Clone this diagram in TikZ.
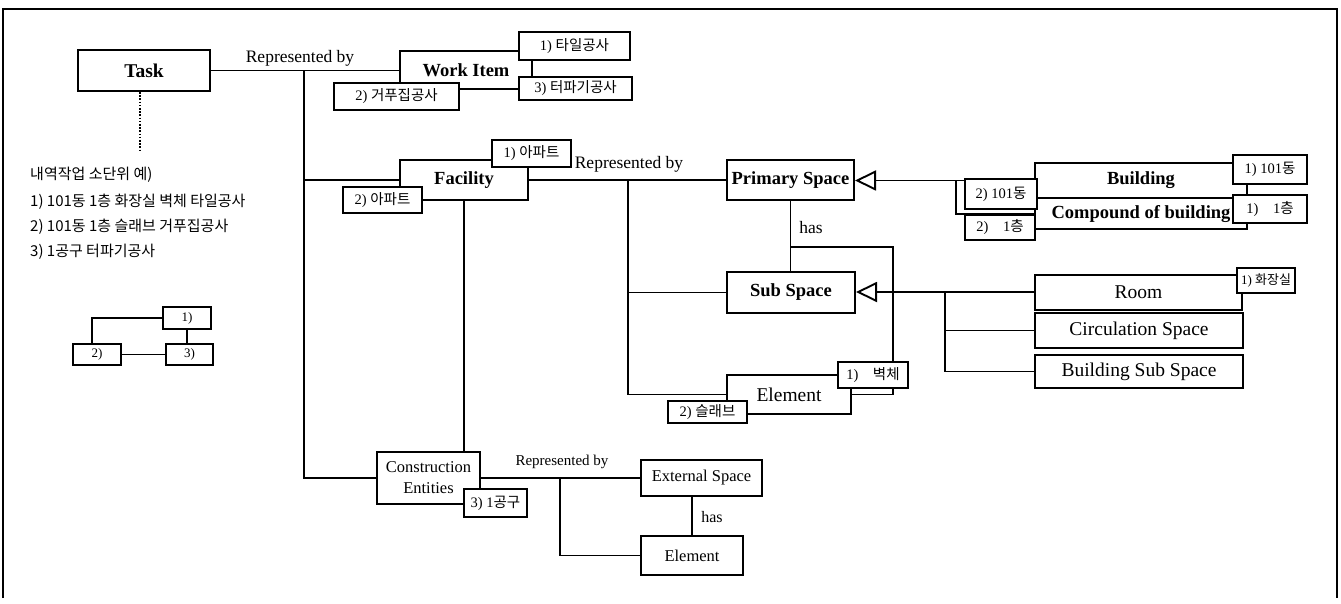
\documentclass[tikz,border=0pt]{standalone}
\usepackage{fontspec}
\setmainfont{Liberation Serif}
\newfontfamily\kr{Noto Sans CJK KR}
\usetikzlibrary{arrows.meta, calc}

\begin{document}
\begin{tikzpicture}[x=1pt, y=-1pt,
  ent/.style={draw, line width=2pt, fill=white, inner sep=0pt,
              font=\fontsize{18.5}{20}\selectfont\bfseries},
  entr/.style={ent, font=\fontsize{19.5}{22}\selectfont},
  ents/.style={ent, font=\fontsize{16.5}{21}\selectfont, align=center},
  inst/.style={draw, line width=1.6pt, fill=white, inner sep=0pt,
               font=\fontsize{14.5}{16}\selectfont},
  rel/.style={font=\fontsize{17.5}{20}\selectfont, inner sep=1pt},
  legend/.style={anchor=west, inner sep=0pt, font=\kr\fontsize{15}{17}\selectfont},
  gen/.style={-{Triangle[open, length=21pt, width=20pt]}},
  ln/.style={line width=1.9pt}]
  \useasboundingbox (0,0) rectangle (1341,604);
  % frame
  \draw[line width=2.2pt] (3,598) -- (3,9) -- (1337,9) -- (1337,598);
  % entities
  \node[ent, minimum width=132pt, minimum height=41pt, font=\fontsize{19.5}{22}\selectfont\bfseries]
    (task) at (144,70.5) {Task};
  \node[ent, minimum width=132pt, minimum height=38pt] (work) at (466,70.5) {Work Item};
  \node[ent, minimum width=128pt, minimum height=40pt] (fac) at (464,180) {Facility};
  \node[ent, minimum width=127pt, minimum height=40pt] (prim) at (790.5,180) {Primary Space};
  \node[ent, minimum width=128pt, minimum height=41pt] (subsp) at (791,292.5) {Sub Space};
  \node[entr, minimum width=124pt, minimum height=39pt] (elem) at (789,394.5) {Element};
  \node[ent, minimum width=212pt, minimum height=35pt] (bldg) at (1141,180.5) {Building};
  \node[ent, minimum width=212pt, minimum height=31pt] (comp) at (1141,214) {Compound of building};
  \node[entr, minimum width=207pt, minimum height=35pt] (room) at (1138.5,292) {Room};
  \node[entr, minimum width=208pt, minimum height=35pt] (circ) at (1139,330.5) {Circulation Space};
  \node[entr, minimum width=208pt, minimum height=33pt] (bss) at (1139,371.5) {Building Sub Space};
  \node[ents, minimum width=103pt, minimum height=52pt] (cons) at (428.5,478) {Construction\\Entities};
  \node[ents, minimum width=121pt, minimum height=36pt] (ext) at (701.5,478) {External Space};
  \node[ents, minimum width=102pt, minimum height=39pt] (elem2) at (692,555.5) {Element};
  % connectors
  \draw[ln] (task.east) -- (work.west);
  \coordinate (trunk) at (304,70.5);
  \draw[ln] (trunk) |- (fac.west);
  \draw[ln] (trunk) |- (cons.west);
  \draw[ln] (fac.east) -- (prim.west);
  \coordinate (ftrunk) at (628,180);
  \draw[ln] (ftrunk) |- (subsp.west);
  \draw[ln] (ftrunk) |- (elem.west);
  \draw[ln] (fac.south) -- (fac.south |- cons.north);
  \draw[ln] (prim.south) -- (prim.south |- subsp.north);
  \coordinate (hasel) at (prim.south |- 0,247);
  \draw[ln] (hasel) -| ([xshift=41pt]elem.east) -- (elem.east);
  \draw[ln, gen] (bldg.west) -- (bldg.west -| prim.east);
  \coordinate (gb) at (956,180.5);
  \draw[ln] (gb) |- (comp.west);
  \draw[ln, gen] (room.west) -- (room.west -| subsp.east);
  \coordinate (gr) at (945,292);
  \draw[ln] (gr) |- (circ.west);
  \draw[ln] (gr) |- (bss.west);
  \draw[ln] (cons.east) -- (ext.west);
  \coordinate (ctrunk) at (560,478);
  \draw[ln] (ctrunk) |- (elem2.west);
  \draw[ln] (elem2.north |- ext.south) -- (elem2.north);
  \draw[line width=2.2pt, dash pattern=on 1.6pt off 1.6pt]
    ([xshift=-4pt]task.south) -- ([xshift=-4pt]task.south |- 0,152);
  % relation labels
  \node[rel] (rep1) at (300,58) {Represented by};
  \node[rel] (rep2) at (629,164) {Represented by};
  \node[rel, font=\fontsize{15}{17}\selectfont] (rep3) at (562,462) {Represented by};
  \node[rel] (has1) at (811,228) {has};
  \node[rel, font=\fontsize{16}{18}\selectfont] (has2) at (712,517) {has};
  % instances
  \node[inst, minimum width=111pt, minimum height=28pt] (wi1) at (574.5,46) {1) \kr 타일공사};
  \node[inst, minimum width=113pt, minimum height=23pt] (wi3) at (575.5,88.5) {3) \kr 터파기공사};
  \node[inst, minimum width=125pt, minimum height=27pt] (wi2) at (396.5,96.5) {2) \kr 거푸집공사};
  \node[inst, minimum width=79pt, minimum height=27pt] (fa1) at (531.5,153.5) {1) \kr 아파트};
  \node[inst, minimum width=79pt, minimum height=26pt] (fa2) at (382.5,200) {2) \kr 아파트};
  \node[inst, minimum width=74pt, minimum height=29pt] (bu1) at (1270,169.5) {1) 101\kr 동};
  \node[inst, minimum width=72pt, minimum height=30pt] (bu2) at (1001,194) {2) 101\kr 동};
  \node[inst, minimum width=74pt, minimum height=28pt] (co1) at (1270,209) {1)\quad 1\kr 층};
  \node[inst, minimum width=70pt, minimum height=25pt] (co2) at (1000,227.5) {2)\quad 1\kr 층};
  \node[inst, minimum width=58pt, minimum height=25pt, font=\fontsize{13}{15}\selectfont]
    (ro1) at (1266,280.5) {1) \kr 화장실};
  \node[inst, minimum width=70pt, minimum height=26pt] (el1) at (873,375) {1)\quad \kr 벽체};
  \node[inst, minimum width=79pt, minimum height=22pt] (el2) at (707.5,412) {2) \kr 슬래브};
  \node[inst, minimum width=63pt, minimum height=28pt] (ce3) at (495.5,503) {3) 1\kr 공구};
  % legend
  \node[legend] (leg0) at (30,175) {내역작업 소단위 예)};
  \node[legend] (leg1) at (30,202) {1) 101동 1층 화장실 벽체 타일공사};
  \node[legend] (leg2) at (30,227) {2) 101동 1층 슬래브 거푸집공사};
  \node[legend] (leg3) at (30,252) {3) 1공구 터파기공사};
  \node[inst, minimum width=48pt, minimum height=22pt, font=\fontsize{13}{15}\selectfont]
    (m1) at (187,318) {1)};
  \node[inst, minimum width=48pt, minimum height=21pt, font=\fontsize{13}{15}\selectfont]
    (m2) at (97,354.5) {2)};
  \node[inst, minimum width=47pt, minimum height=21pt, font=\fontsize{13}{15}\selectfont]
    (m3) at (189.5,354.5) {3)};
  \draw[ln] ([xshift=-5pt]m2.north) |- (m1.west);
  \draw[line width=2.8pt] (m1.south) -- (m1.south |- m3.north);
  \draw[ln] (m2.east) -- (m3.west);
\end{tikzpicture}
\end{document}
